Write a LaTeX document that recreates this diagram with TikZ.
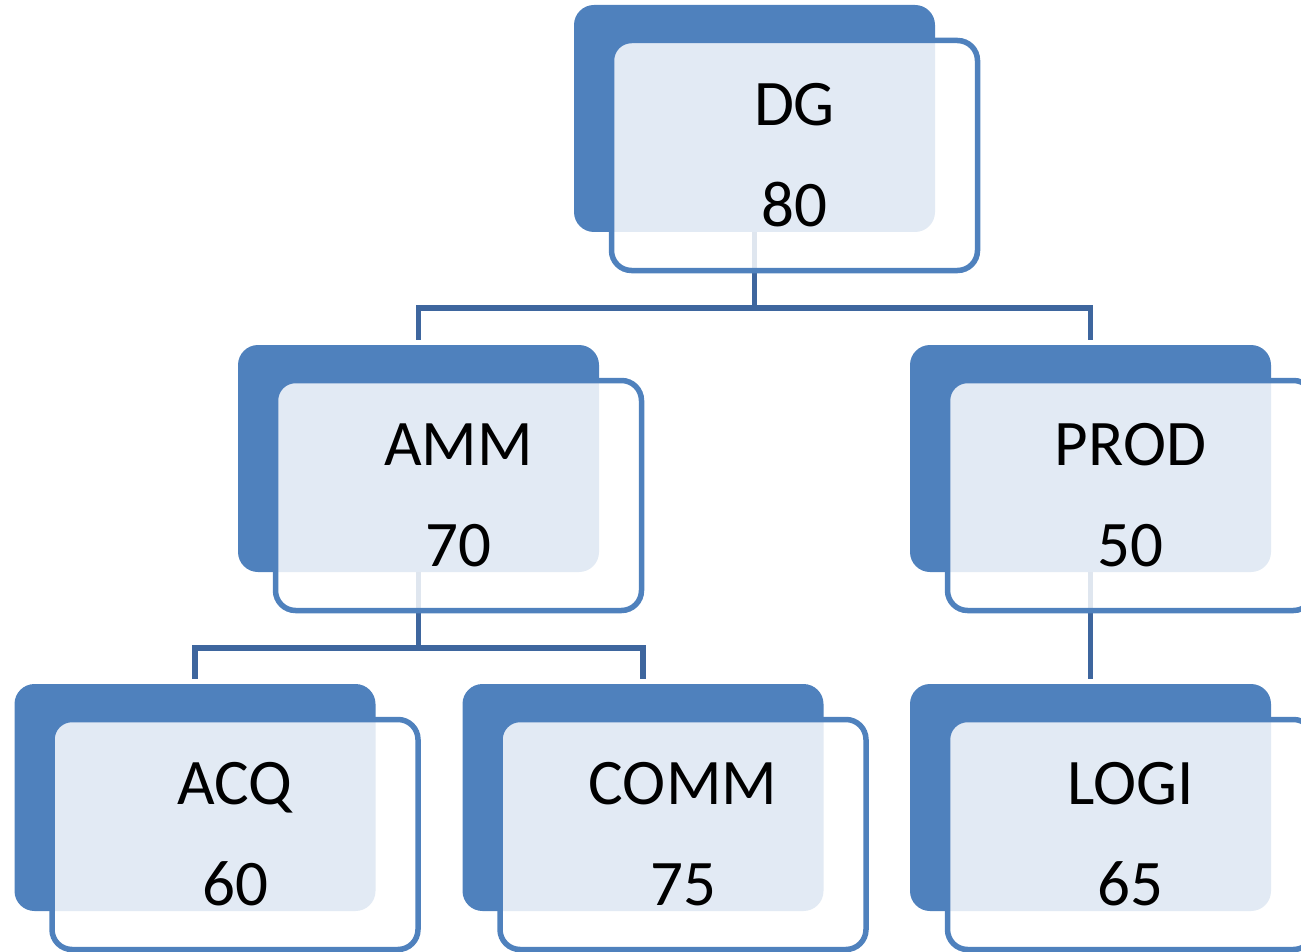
\documentclass[tikz,border=0pt]{standalone}
\usepackage{fontspec}
\setmainfont{Carlito}
\usepackage{tikz}
\usetikzlibrary{positioning}
\definecolor{boxblue}{RGB}{79,129,189}
\definecolor{linkblue}{RGB}{62,102,158}
\newcommand{\widthback}{361pt}
\newcommand{\heightback}{227pt}
\newcommand{\widthfront}{366pt}
\newcommand{\heightfront}{230pt}
\tikzset{
    back/.style={rectangle, rounded corners=20pt, fill=boxblue, inner sep=0pt,
        minimum width=\widthback, minimum height=\heightback},
    front/.style={rectangle, rounded corners=20pt, draw=boxblue, line width=5.5pt,
        fill=white, fill opacity=0.84, text opacity=1, inner sep=0pt,
        minimum width=\widthfront, minimum height=\heightfront,
        align=center, font=\fontsize{65}{101}\selectfont},
    link/.style={draw=linkblue, line width=5.5pt}
}

\begin{document}
\begin{tikzpicture}[x=1pt, y=1pt]
    \useasboundingbox (0,0) rectangle (1301,-952);

    % back boxes
    \node[back] (dg-back) at (754.5,-118.5) {};
    \node[back] (amm-back) at (418.5,-458.5) {};
    \node[back] (prod-back) at (1090.5,-458.5) {};
    \node[back] (acq-back) at (195,-797.5) {};
    \node[back] (comm-back) at (643,-797.5) {};
    \node[back] (logi-back) at (1090.5,-797.5) {};

    % links
    \draw[link] (dg-back.south) -- ++(0,-76) -| ([yshift=5pt]amm-back.north);
    \draw[link] (dg-back.south) -- ++(0,-76) -| ([yshift=5pt]prod-back.north);
    \draw[link] (amm-back.south) -- ++(0,-76) -| ([yshift=5pt]acq-back.north);
    \draw[link] (amm-back.south) -- ++(0,-76) -| ([yshift=5pt]comm-back.north);
    \draw[link] (prod-back.south) -- ([yshift=5pt]logi-back.north);

    % front boxes
    \node[front] (dg) at ([xshift=40pt, yshift=-37pt]dg-back.center) {DG\\80};
    \node[front] (amm) at ([xshift=40pt, yshift=-37pt]amm-back.center) {AMM\\70};
    \node[front] (prod) at ([xshift=40pt, yshift=-37pt]prod-back.center) {PROD\\50};
    \node[front] (acq) at ([xshift=40pt, yshift=-37pt]acq-back.center) {ACQ\\60};
    \node[front] (comm) at ([xshift=40pt, yshift=-37pt]comm-back.center) {COMM\\75};
    \node[front] (logi) at ([xshift=40pt, yshift=-37pt]logi-back.center) {LOGI\\65};
\end{tikzpicture}
\end{document}
